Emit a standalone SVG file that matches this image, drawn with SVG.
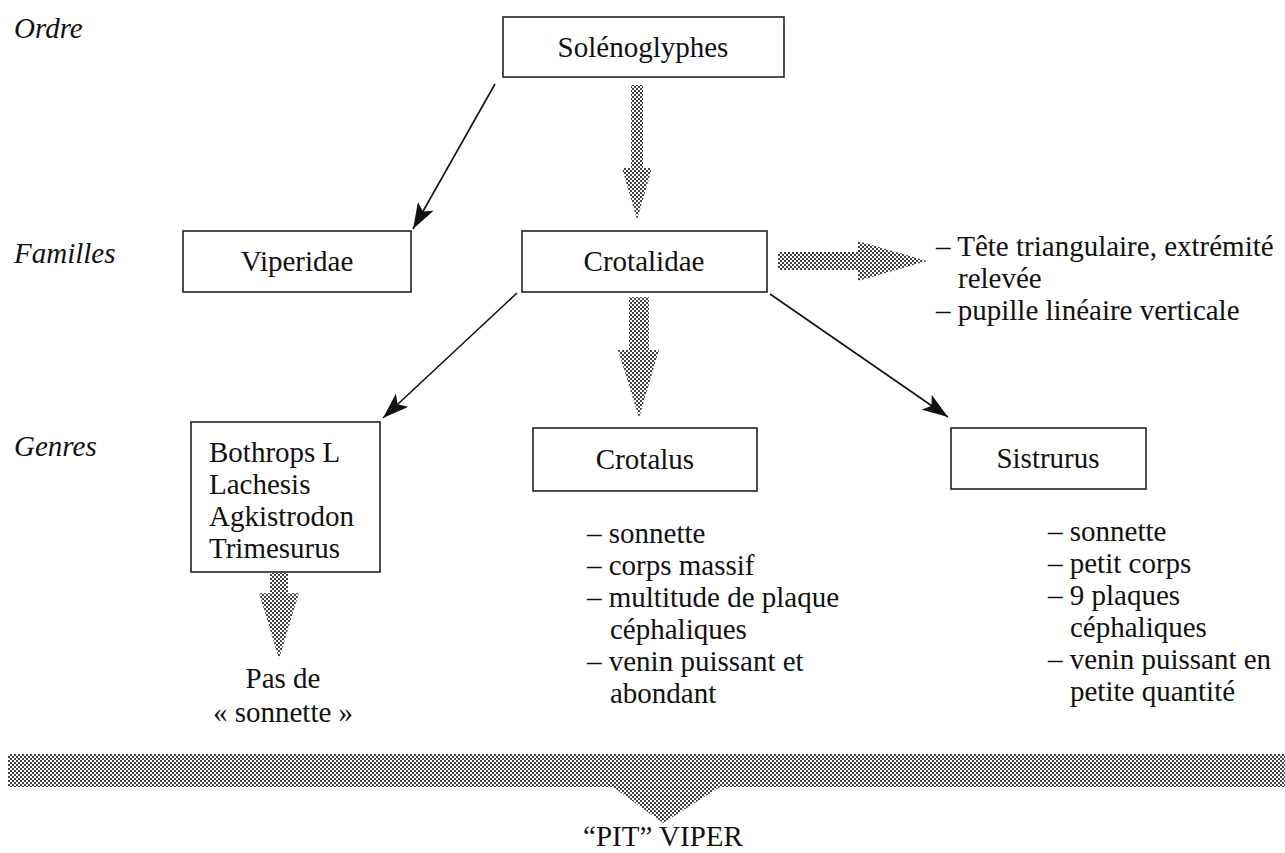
<svg xmlns="http://www.w3.org/2000/svg" width="1285" height="853" viewBox="0 0 1285 853">
<defs>
<style>
text{font-family:"Liberation Serif","Times New Roman",serif;font-size:29px;fill:#111}
.lbl{font-style:italic}
.c{text-anchor:middle}
.box{fill:#fff;stroke:#222;stroke-width:1.6}
.ln{stroke:#111;stroke-width:1.6;fill:none}
.dot{fill:url(#dots);stroke:none}
</style>
<pattern id="dots" width="4" height="4" patternUnits="userSpaceOnUse">
<rect x="0" y="0" width="2" height="2" fill="#444"/>
<rect x="2" y="2" width="2" height="2" fill="#444"/>
</pattern>
<marker id="ah" markerUnits="userSpaceOnUse" markerWidth="28" markerHeight="18" refX="26" refY="9" orient="auto">
<path d="M0,0 L26,9 L0,18 L6,9 z" fill="#111"/>
</marker>
</defs>
<rect width="1285" height="853" fill="#fff"/>

<g id="labels">
<text class="lbl" x="14" y="38">Ordre</text>
<text class="lbl" x="14" y="263">Familles</text>
<text class="lbl" x="14" y="456">Genres</text>
</g>

<g id="connectors">
<line class="ln" x1="495" y1="84" x2="413" y2="229" marker-end="url(#ah)"/>
<line class="ln" x1="517" y1="293" x2="383" y2="418" marker-end="url(#ah)"/>
<line class="ln" x1="770" y1="294" x2="948" y2="417" marker-end="url(#ah)"/>
<path class="dot" d="M631,85 H643 V168 H652 L637,220 L622,168 H631 Z"/>
<path class="dot" d="M629,297 H649 V350 H659 L639,418 L618,350 H629 Z"/>
<path class="dot" d="M270,573 H288 V593 H299 L279,659 L259,593 H270 Z"/>
<path class="dot" d="M778,252 H858 V241 L927,261 L858,281 V270 H778 Z"/>
<path class="dot" d="M8,754 H1285 V787 H720 L663,823 L613,787 H8 Z"/>
</g>

<g id="n-solenoglyphes">
<rect class="box" x="503" y="17" width="281" height="60"/>
<text class="c" x="643" y="57">Solénoglyphes</text>
</g>
<g id="n-viperidae">
<rect class="box" x="183" y="231" width="228" height="61"/>
<text class="c" x="297" y="271">Viperidae</text>
</g>
<g id="n-crotalidae">
<rect class="box" x="522" y="231" width="245" height="61"/>
<text class="c" x="644" y="271">Crotalidae</text>
</g>
<g id="n-crotalidae-traits">
<text x="936" y="256">– Tête triangulaire, extrémité</text>
<text x="958" y="288">relevée</text>
<text x="936" y="320">– pupille linéaire verticale</text>
</g>
<g id="n-bothrops">
<rect class="box" x="191" y="422" width="189" height="150"/>
<text x="209" y="462">Bothrops L</text>
<text x="209" y="494">Lachesis</text>
<text x="209" y="526">Agkistrodon</text>
<text x="209" y="558">Trimesurus</text>
</g>
<g id="n-pas-de-sonnette">
<text class="c" x="283" y="688">Pas de</text>
<text class="c" x="283" y="722">« sonnette »</text>
</g>
<g id="n-crotalus">
<rect class="box" x="533" y="428" width="224" height="63"/>
<text class="c" x="645" y="469">Crotalus</text>
</g>
<g id="n-crotalus-traits">
<text x="587" y="543">– sonnette</text>
<text x="587" y="575">– corps massif</text>
<text x="587" y="607">– multitude de plaque</text>
<text x="610" y="639">céphaliques</text>
<text x="587" y="671">– venin puissant et</text>
<text x="610" y="703">abondant</text>
</g>
<g id="n-sistrurus">
<rect class="box" x="951" y="428" width="195" height="61"/>
<text class="c" x="1048" y="468">Sistrurus</text>
</g>
<g id="n-sistrurus-traits">
<text x="1048" y="541">– sonnette</text>
<text x="1048" y="573">– petit corps</text>
<text x="1048" y="605">– 9 plaques</text>
<text x="1070" y="637">céphaliques</text>
<text x="1048" y="669">– venin puissant en</text>
<text x="1070" y="701">petite quantité</text>
</g>
<g id="n-pit-viper">
<text class="c" x="663" y="846">“PIT” VIPER</text>
</g>
</svg>
